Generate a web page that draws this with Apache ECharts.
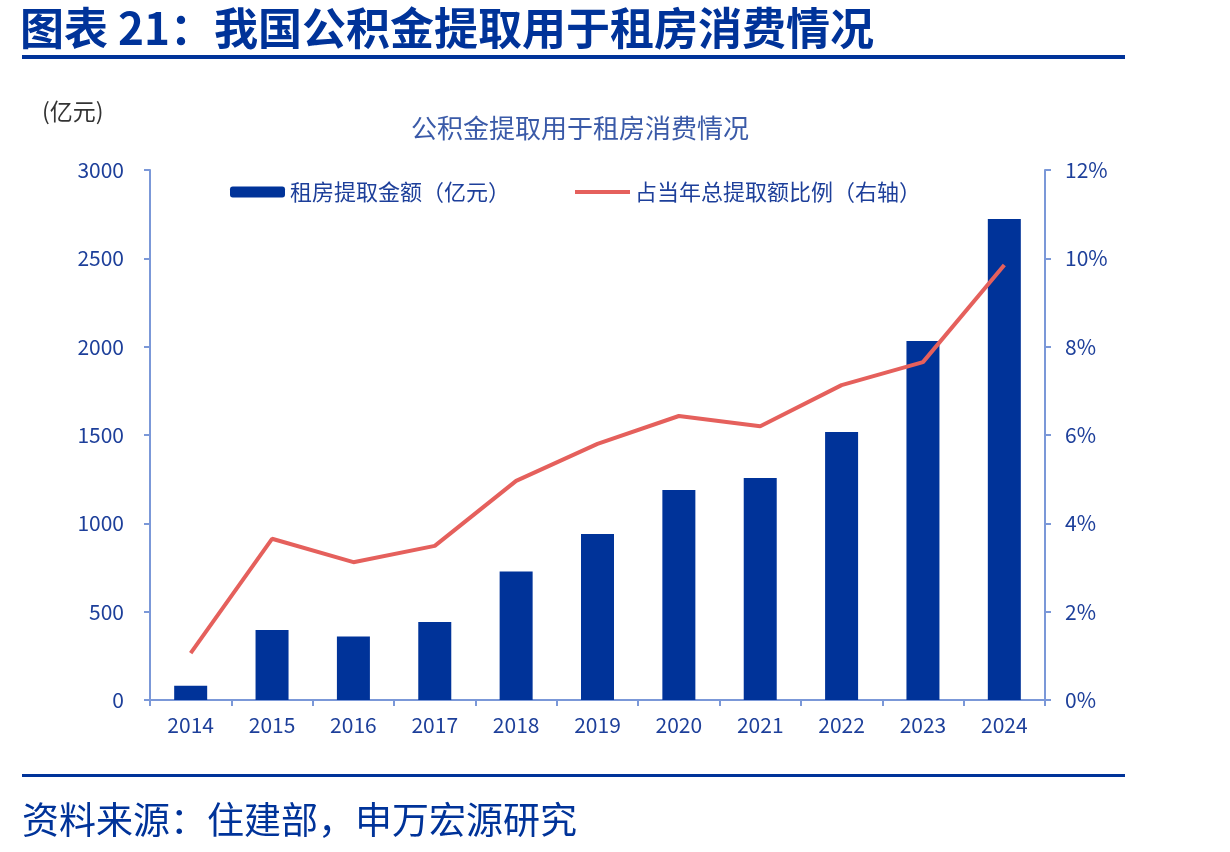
<!DOCTYPE html>
<html>
<head>
<meta charset="utf-8">
<script src="https://cdn.jsdelivr.net/npm/echarts@6/dist/echarts.min.js"></script>
<style>
html, body { margin: 0; padding: 0; background: #fff; }
#chart { width: 1230px; height: 852px; }
</style>
</head>
<body>
<div id="chart"></div>
<script>
// 年份
const years = ['2014', '2015', '2016', '2017', '2018', '2019', '2020', '2021', '2022', '2023', '2024'];
// 租房提取金额（亿元）
const rentAmount = [80, 396, 360, 441, 728, 940, 1189, 1257, 1517, 2032, 2723];
// 占当年总提取额比例（%）
const rentShare = [1.06, 3.65, 3.12, 3.49, 4.96, 5.80, 6.43, 6.20, 7.13, 7.65, 9.85];

const font = '"Noto Sans CJK SC", "Noto Sans", sans-serif';
const navy = '#003399';
const axisBlue = '#7b98d8';
const labelBlue = '#1d3f9a';

const myChart = echarts.init(document.getElementById('chart'));

const option = {
    backgroundColor: '#fff',
    textStyle: { fontFamily: font },
    graphic: [
        {
            type: 'text', left: 20, top: 6,
            style: { text: '图表 21：我国公积金提取用于租房消费情况', font: 'bold 44px ' + font, fill: navy }
        },
        {
            type: 'rect', shape: { x: 22, y: 55, width: 1103, height: 4 },
            style: { fill: navy }
        },
        {
            type: 'text', left: 42, top: 100,
            style: { text: '(亿元)', font: '23px ' + font, fill: '#333' }
        },
        {
            type: 'rect', shape: { x: 22, y: 774, width: 1103, height: 3 },
            style: { fill: navy }
        },
        {
            type: 'text', left: 22, top: 801,
            style: { text: '资料来源：住建部，申万宏源研究', font: '37px ' + font, fill: navy }
        }
    ],
    title: {
        text: '公积金提取用于租房消费情况',
        left: 575, top: 110, textAlign: 'center',
        textStyle: { fontSize: 26, fontWeight: 'normal', color: '#3a5aa8', fontFamily: font }
    },
    legend: [
        {
            data: ['租房提取金额（亿元）'],
            left: 225, top: 176,
            itemWidth: 55, itemHeight: 11,
            textStyle: { fontSize: 22, color: labelBlue, fontFamily: font }
        },
        {
            data: [{ name: '占当年总提取额比例（右轴）', icon: 'rect' }],
            left: 570, top: 176,
            itemWidth: 55, itemHeight: 4,
            textStyle: { fontSize: 22, color: labelBlue, fontFamily: font }
        }
    ],
    grid: { left: 150, right: 185, top: 170, bottom: 152 },
    xAxis: {
        type: 'category',
        data: years,
        axisLine: { lineStyle: { color: axisBlue, width: 2 } },
        axisTick: { show: true, length: 6, lineStyle: { color: axisBlue, width: 2 } },
        axisLabel: { fontSize: 21, color: labelBlue, margin: 15, fontFamily: font }
    },
    yAxis: [
        {
            type: 'value', min: 0, max: 3000, interval: 500,
            axisLine: { show: true, lineStyle: { color: axisBlue, width: 2 } },
            axisTick: { show: true, length: 6, lineStyle: { color: axisBlue, width: 2 } },
            splitLine: { show: false },
            axisLabel: { fontSize: 21, color: labelBlue, margin: 26, fontFamily: font, formatter: v => String(v) }
        },
        {
            type: 'value', min: 0, max: 12, interval: 2, position: 'right',
            axisLine: { show: true, lineStyle: { color: axisBlue, width: 2 } },
            axisTick: { show: true, length: 6, lineStyle: { color: axisBlue, width: 2 } },
            splitLine: { show: false },
            axisLabel: { fontSize: 21, color: labelBlue, margin: 20, formatter: '{value}%', fontFamily: font }
        }
    ],
    series: [
        {
            name: '租房提取金额（亿元）',
            type: 'bar',
            data: rentAmount,
            barWidth: 33,
            itemStyle: { color: navy },
            animation: false
        },
        {
            name: '占当年总提取额比例（右轴）',
            type: 'line',
            yAxisIndex: 1,
            data: rentShare,
            showSymbol: false,
            symbol: 'none',
            lineStyle: { color: '#e5605c', width: 4 },
            itemStyle: { color: '#e5605c' },
            animation: false
        }
    ]
};

myChart.setOption(option);
</script>
</body>
</html>
